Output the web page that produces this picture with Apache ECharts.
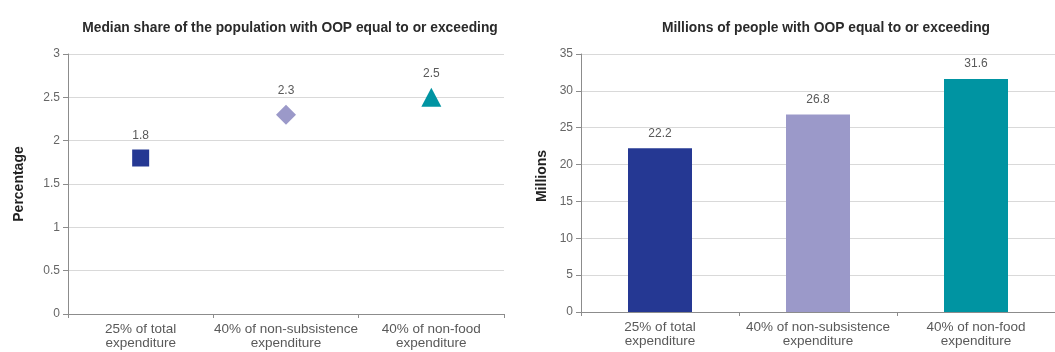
<!DOCTYPE html>
<html>
<head>
<meta charset="utf-8">
<script src="https://cdn.jsdelivr.net/npm/echarts@6/dist/echarts.min.js"></script>
<style>
  html, body { margin: 0; padding: 0; background: #fff; }
  #chart { width: 1055px; height: 352px; }
</style>
</head>
<body>
<div id="chart"></div>
<script>
// categories shared by both panels
const categories = ['25% of total\nexpenditure', '40% of non-subsistence\nexpenditure', '40% of non-food\nexpenditure'];
// left panel: median share (%)
const shareValues = [1.8, 2.3, 2.5];
// right panel: millions of people
const millionsValues = [22.2, 26.8, 31.6];
const colors = ['#253893', '#9b99c9', '#0094a2'];
const markerShapes = ['rect', 'diamond', 'triangle'];
const markerSizes = [[17, 17], [20, 20], [20, 19]];

const chart = echarts.init(document.getElementById('chart'));
const font = 'Liberation Sans, Arial, sans-serif';
const textGray = '#595959';

const yAxisCommon = {
    type: 'value',
    axisLine: { show: true, lineStyle: { color: '#8c8c8c' } },
    axisTick: { show: true, length: 5, lineStyle: { color: '#8c8c8c' } },
    axisLabel: { color: '#666', fontSize: 12, fontFamily: font, margin: 8 },
    splitLine: { lineStyle: { color: '#d9d9d9', width: 1 } },
    nameLocation: 'middle',
    nameTextStyle: { color: '#222', fontSize: 14, fontWeight: 'bold', fontFamily: font }
};
const xAxisCommon = {
    type: 'category',
    data: categories,
    axisLine: { lineStyle: { color: '#8c8c8c' } },
    axisTick: { show: true, length: 4, lineStyle: { color: '#8c8c8c' } },
    axisLabel: { color: textGray, fontSize: 13.5, fontFamily: font, interval: 0, lineHeight: 14, margin: 8 }
};

const option = {
    animation: false,
    title: [
        {
            text: 'Median share of the population with OOP equal to or exceeding',
            left: 285, top: 16, textAlign: 'center',
            textStyle: { fontSize: 13.8, fontWeight: 'bold', color: '#2a2a2a', fontFamily: font }
        },
        {
            text: 'Millions of people with OOP equal to or exceeding',
            left: 821, top: 16, textAlign: 'center',
            textStyle: { fontSize: 13.8, fontWeight: 'bold', color: '#2a2a2a', fontFamily: font }
        }
    ],
    grid: [
        { left: 68, right: 551, top: 54, bottom: 38 },
        { left: 581, right: 0, top: 54, bottom: 40 }
    ],
    xAxis: [
        { ...xAxisCommon, gridIndex: 0 },
        { ...xAxisCommon, gridIndex: 1 }
    ],
    yAxis: [
        { ...yAxisCommon, gridIndex: 0, min: 0, max: 3, interval: 0.5, name: 'Percentage', nameGap: 42 },
        {
            ...yAxisCommon, gridIndex: 1, min: 0, max: 35, interval: 5, name: 'Millions', nameGap: 32,
            nameTextStyle: { ...yAxisCommon.nameTextStyle, padding: [0, 0, 0, 14] }
        }
    ],
    series: [
        {
            type: 'scatter',
            xAxisIndex: 0, yAxisIndex: 0,
            data: shareValues.map((v, i) => ({
                value: v,
                symbol: markerShapes[i],
                symbolSize: markerSizes[i],
                itemStyle: { color: colors[i], opacity: 1 }
            })),
            label: {
                show: true, position: 'top', distance: 8,
                color: textGray, fontSize: 12, fontFamily: font
            }
        },
        {
            type: 'bar',
            xAxisIndex: 1, yAxisIndex: 1,
            barWidth: 64,
            data: millionsValues.map((v, i) => ({ value: v, itemStyle: { color: colors[i] } })),
            label: {
                show: true, position: 'top', distance: 9,
                color: textGray, fontSize: 12, fontFamily: font
            }
        }
    ]
};
chart.setOption(option);
</script>
</body>
</html>
